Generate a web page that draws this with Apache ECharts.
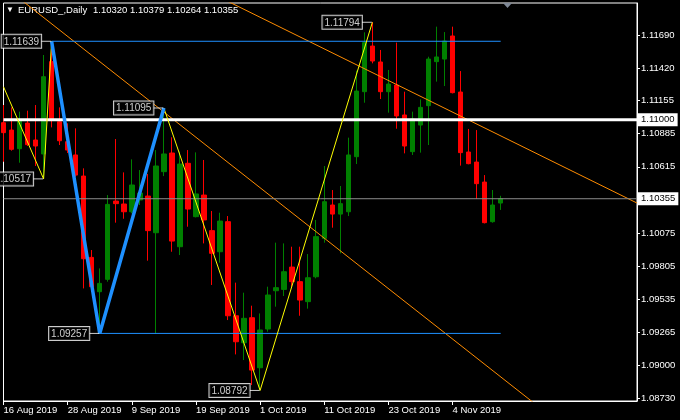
<!DOCTYPE html>
<html><head><meta charset="utf-8">
<script src="https://cdn.jsdelivr.net/npm/echarts@6/dist/echarts.min.js"></script>
<style>html,body{margin:0;padding:0;background:#000}#c{width:680px;height:420px}</style>
</head><body><div id="c"></div>
<script>
const dates = ['16 Aug 2019','19 Aug 2019','20 Aug 2019','21 Aug 2019','22 Aug 2019','23 Aug 2019',
 '26 Aug 2019','27 Aug 2019','28 Aug 2019','29 Aug 2019','30 Aug 2019',
 '2 Sep 2019','3 Sep 2019','4 Sep 2019','5 Sep 2019','6 Sep 2019',
 '9 Sep 2019','10 Sep 2019','11 Sep 2019','12 Sep 2019','13 Sep 2019',
 '16 Sep 2019','17 Sep 2019','18 Sep 2019','19 Sep 2019','20 Sep 2019',
 '23 Sep 2019','24 Sep 2019','25 Sep 2019','26 Sep 2019','27 Sep 2019',
 '30 Sep 2019','1 Oct 2019','2 Oct 2019','3 Oct 2019','4 Oct 2019',
 '7 Oct 2019','8 Oct 2019','9 Oct 2019','10 Oct 2019','11 Oct 2019',
 '14 Oct 2019','15 Oct 2019','16 Oct 2019','17 Oct 2019','18 Oct 2019',
 '21 Oct 2019','22 Oct 2019','23 Oct 2019','24 Oct 2019','25 Oct 2019',
 '28 Oct 2019','29 Oct 2019','30 Oct 2019','31 Oct 2019','1 Nov 2019',
 '4 Nov 2019','5 Nov 2019','6 Nov 2019','7 Nov 2019','8 Nov 2019',
 '11 Nov 2019','12 Nov 2019'];
const shiftSlots = 17; // empty chart-shift area on the right

// [open, close, low, high]
const candles = [
 [1.10975,1.10894,1.10657,1.11119],[1.10915,1.10758,1.10747,1.11100],[1.10763,1.10997,1.10649,1.11065],
 [1.10972,1.10796,1.10785,1.11073],[1.10834,1.10785,1.10622,1.11119],[1.10720,1.11350,1.10517,1.11527],
 [1.11473,1.11002,1.10937,1.11639],[1.10983,1.10828,1.10793,1.11100],[1.10820,1.10752,1.10728,1.10970],
 [1.10712,1.10548,1.10535,1.10929],[1.10540,1.09866,1.09624,1.10603],[1.09877,1.09638,1.09611,1.09937],
 [1.09597,1.09665,1.09257,1.09787],[1.09698,1.10309,1.09679,1.10385],[1.10336,1.10315,1.10160,1.10842],
 [1.10312,1.10249,1.10192,1.10570],[1.10249,1.10467,1.10236,1.10676],[1.10345,1.10402,1.10304,1.10589],
 [1.10377,1.10095,1.09850,1.10557],[1.10078,1.10622,1.09257,1.10752],[1.10576,1.10720,1.10540,1.11095],
 [1.10728,1.10010,1.09923,1.10856],[1.09964,1.10638,1.09896,1.10739],[1.10644,1.10271,1.10127,1.10752],
 [1.10209,1.10394,1.10203,1.10733],[1.10385,1.10182,1.09991,1.10671],[1.10095,1.09910,1.09652,1.10255],
 [1.09923,1.10173,1.09834,1.10241],[1.10168,1.09401,1.09366,1.10214],[1.09401,1.09189,1.09086,1.09671],
 [1.09181,1.09380,1.09040,1.09589],[1.09385,1.08958,1.08836,1.09483],[1.08977,1.09285,1.08792,1.09420],
 [1.09293,1.09570,1.09271,1.09638],[1.09605,1.09630,1.09475,1.09997],[1.09616,1.09760,1.09562,1.09991],
 [1.09798,1.09679,1.09638,1.09964],[1.09679,1.09529,1.09401,1.09964],[1.09516,1.09711,1.09459,1.09904],
 [1.09719,1.10046,1.09706,1.10182],[1.10032,1.10331,1.09997,1.10622],[1.10304,1.10230,1.10119,1.10426],
 [1.10230,1.10315,1.09910,1.10459],[1.10249,1.10712,1.10214,1.10853],[1.10698,1.11233,1.10638,1.11399],
 [1.11228,1.11628,1.11138,1.11712],[1.11600,1.11478,1.11459,1.11794],[1.11470,1.11228,1.11168,1.11568],
 [1.11228,1.11290,1.11057,1.11405],[1.11282,1.11030,1.10926,1.11628],[1.11038,1.10785,1.10725,1.11228],
 [1.10739,1.11005,1.10712,1.11065],[1.10956,1.11100,1.10731,1.11165],[1.11114,1.11494,1.10793,1.11513],
 [1.11473,1.11511,1.11310,1.11758],[1.11494,1.11641,1.11274,1.11714],[1.11682,1.11220,1.11214,1.11758],
 [1.11225,1.10731,1.10625,1.11396],[1.10736,1.10641,1.10636,1.10924],[1.10654,1.10478,1.10353,1.10915],
 [1.10491,1.10160,1.10154,1.10548],[1.10168,1.10304,1.10160,1.10426],[1.10320,1.10355,1.10264,1.10379]
];

const blueZigzag = [[6,1.11639],[12,1.09257],[20,1.11095]];
const yellowZigzag = [[0,1.11268],[5,1.10517],[6,1.11639],[12,1.09257],[20,1.11095],[32,1.08792],[46,1.11794]];
const labelledPivots = [5,6,12,20,32,46];
const trendA = [[0,1.12090],[79,1.08029]];
const trendB = [[0,1.12866],[79,1.10320]];
const levelHigh = [[6,1.11639],[62,1.11639]];
const levelLow = [[12,1.09257],[62,1.09257]];
const roundLevel = 1.11000;
const lastPrice = 1.10355;
const yTicks = [1.08730,1.09000,1.09265,1.09535,1.09805,1.10075,1.10615,1.10885,1.11155,1.11420,1.11690];
const headerSymbol = 'EURUSD_,Daily';
const headerOHLC = ['1.10320','1.10379','1.10264','1.10355'];
const yMin = 1.08706, yMax = 1.11951;

const FONT = "'Liberation Sans', Arial, sans-serif";
const categories = dates.concat(Array.from({length: shiftSlots}, (_, k) => '~' + k));
const lastIdx = categories.length - 1;
const pivotPoints = yellowZigzag.concat(blueZigzag)
  .filter((d, i, arr) => labelledPivots.includes(d[0]) && arr.findIndex(e => e[0] === d[0]) === i);

const chart = echarts.init(document.getElementById('c'), null, {renderer:'canvas'});
chart.setOption({
  backgroundColor:'#000',
  animation:false,
  grid:{left:3.5, right:43, top:3, bottom:19, show:true, borderColor:'#fff', borderWidth:1, backgroundColor:'#000'},
  xAxis:{
    type:'category', data:categories, boundaryGap:false,
    axisLine:{show:true, lineStyle:{color:'#fff', width:1}},
    axisTick:{show:true, length:4, lineStyle:{color:'#fff'},
      interval:(i) => i % 8 === 0 && i < dates.length},
    axisLabel:{color:'#fff', fontSize:9.5, fontFamily:FONT, align:'left', margin:4,
      interval:(i) => i % 8 === 0 && i < dates.length},
    splitLine:{show:false}
  },
  yAxis:{
    type:'value', position:'right', min:yMin, max:yMax, scale:true,
    axisLine:{show:true, lineStyle:{color:'#fff'}},
    axisTick:{show:true, length:3, lineStyle:{color:'#fff'}, customValues:yTicks},
    axisLabel:{color:'#fff', fontSize:9.5, fontFamily:FONT, margin:4, customValues:yTicks,
      formatter:v => v.toFixed(5)},
    splitLine:{show:false}
  },
  graphic:[
    {type:'text', x:6, y:6, style:{text:'▼', fill:'#fff', font:'8px '+FONT}},
    {type:'text', x:18, y:5, style:{text:headerSymbol, fill:'#fff', font:'9.5px '+FONT}},
    {type:'text', x:93, y:5, style:{text:headerOHLC.join(' '), fill:'#fff', font:'9.5px '+FONT}},
    {type:'polygon', shape:{points:[[503,3],[512,3],[507.5,8]]}, style:{fill:'#7f8896'}}
  ],
  series:[
    {type:'candlestick', data:candles, barWidth:5, z:2,
     itemStyle:{color:'#008000', color0:'#ff0000', borderColor:'#008000', borderColor0:'#ff0000', borderWidth:1}},
    {type:'line', data:trendA, symbol:'none', z:3, lineStyle:{color:'#ff8c00', width:1}},
    {type:'line', data:trendB, symbol:'none', z:3, lineStyle:{color:'#ff8c00', width:1}},
    {type:'line', data:levelHigh, symbol:'none', z:3, lineStyle:{color:'#1e90ff', width:1}},
    {type:'line', data:levelLow, symbol:'none', z:3, lineStyle:{color:'#1e90ff', width:1}},
    {type:'line', data:[[0,lastPrice],[lastIdx,lastPrice]], symbol:'none', z:3, lineStyle:{color:'#8c8c8c', width:1},
     endLabel:{show:true, formatter:lastPrice.toFixed(5), backgroundColor:'#fff', color:'#000', padding:[2,3,1,3],
       fontSize:9.5, fontFamily:FONT, distance:1}},
    {type:'line', data:[[0,roundLevel],[lastIdx,roundLevel]], symbol:'none', z:4, lineStyle:{color:'#fff', width:3},
     endLabel:{show:true, formatter:roundLevel.toFixed(5), backgroundColor:'#fff', color:'#000', padding:[2,3,1,3],
       fontSize:9.5, fontFamily:FONT, distance:1}},
    {type:'line', z:5, data:yellowZigzag, symbol:'none', lineStyle:{color:'#ffff00', width:1}},
    {type:'line', z:6, data:blueZigzag, symbol:'diamond', symbolSize:7, showSymbol:true,
     lineStyle:{color:'#1e90ff', width:3.5}, itemStyle:{color:'#1e90ff'}},
    {type:'scatter', z:7, data:pivotPoints, symbolSize:1, itemStyle:{color:'rgba(0,0,0,0)'},
     label:{
       show:true, position:'left', distance:0,
       formatter: p => '{t|' + p.value[1].toFixed(5) + '}{c|}',
       rich:{
         t:{color:'#fff', backgroundColor:'#000', borderColor:'#fff', borderWidth:1,
            padding:[2,2,1,2], fontSize:10, fontFamily:FONT, lineHeight:10},
         c:{width:10, height:1, backgroundColor:'#fff'}
       }
     }}
  ]
});
</script></body></html>
